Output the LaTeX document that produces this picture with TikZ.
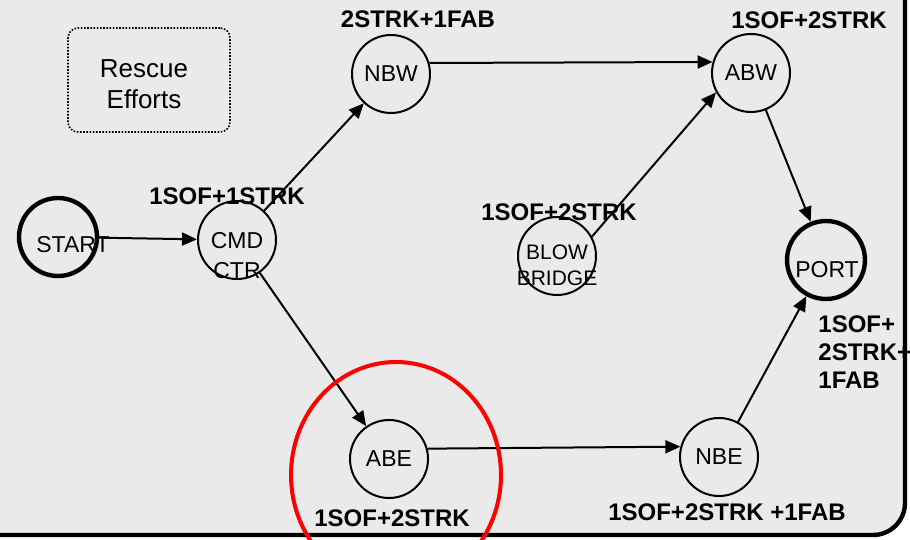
\documentclass[tikz,border=0pt]{standalone}
\usepackage{fontspec}
\setmainfont{Liberation Sans}
\usetikzlibrary{arrows.meta}
\definecolor{rescueGrey}{HTML}{EAEAEA}
\definecolor{rescueRed}{HTML}{FF0000}
\tikzset{
  stage/.style={draw=black, line width=1pt, circle, minimum size=39pt, inner sep=0pt,
    font=\fontsize{11.5}{13}\selectfont},
  endstage/.style={stage, line width=2.2pt},
  stagetext/.style={align=center, inner sep=0pt, font=\fontsize{11.5}{15}\selectfont},
  cost/.style={align=left, inner sep=0pt, font=\bfseries\fontsize{12}{14}\selectfont},
  flow/.style={line width=1pt, -{Triangle[length=7.5pt,width=6.5pt]}}
}

\begin{document}
\begin{tikzpicture}[x=0.5pt,y=-0.5pt]
\useasboundingbox (0,0) rectangle (910,540);
\path[draw=black, line width=2.2pt, fill=rescueGrey, rounded corners=16pt] (-40,-40) rectangle (905,535);

% stages
\node[endstage] (start) at (58,237) {};
\node[stage] (cmd) at (237,240) {};
\node[stage] (nbw) at (391,74) {NBW};
\node[stage] (abw) at (751,73) {ABW};
\node[stage] (blow) at (557,256) {};
\node[endstage] (port) at (826,260) {};
\node[stage] (abe) at (389,459) {ABE};
\node[stage] (nbe) at (719,457) {NBE};

\node[stagetext] (starttext) at (73,245) {START};
\node[stagetext] (cmdtext) at (237,256) {CMD\\CTR};
\node[stagetext, font=\fontsize{10.5}{13}\selectfont] (blowtext) at (557,265) {BLOW\\BRIDGE};
\node[stagetext] (porttext) at (827,270) {PORT};

\node[draw=black, dash pattern=on 0.8pt off 0.8pt, line width=0.8pt, rounded corners=5pt,
  minimum width=81pt, minimum height=52pt] (rescue) at (149,80) {};
\node[stagetext, font=\fontsize{13}{15.5}\selectfont] (rescuetext) at (144,84) {Rescue\\Efforts};

% flows
\draw[flow] (start) -- (cmd);
\draw[flow] (cmd) -- (nbw);
\draw[flow] (cmd) -- (abe);
\draw[flow] (nbw.16) -- (abw.164);
\draw[flow] (blow.29) -- (abw.209);
\draw[flow] (abw) -- (port);
\draw[flow] (abe.15) -- (nbe.165);
\draw[flow] (nbe) -- (port);

% costs
\node[cost] (cmdcost) at (227,196) {1SOF+1STRK};
\node[cost] (nbwcost) at (418,19) {2STRK+1FAB};
\node[cost] (abwcost) at (809,20) {1SOF+2STRK};
\node[cost] (blowcost) at (559,212) {1SOF+2STRK};
\node[cost, anchor=north west] (portcost) at (818,315) {1SOF+\\2STRK+\\1FAB};
\node[cost] (abecost) at (392,518) {1SOF+2STRK};
\node[cost] (nbecost) at (727,512) {1SOF+2STRK +1FAB};

\draw[rescueRed, line width=2pt] (396,475) ellipse [x radius=52.5pt, y radius=56.5pt];
\end{tikzpicture}
\end{document}
